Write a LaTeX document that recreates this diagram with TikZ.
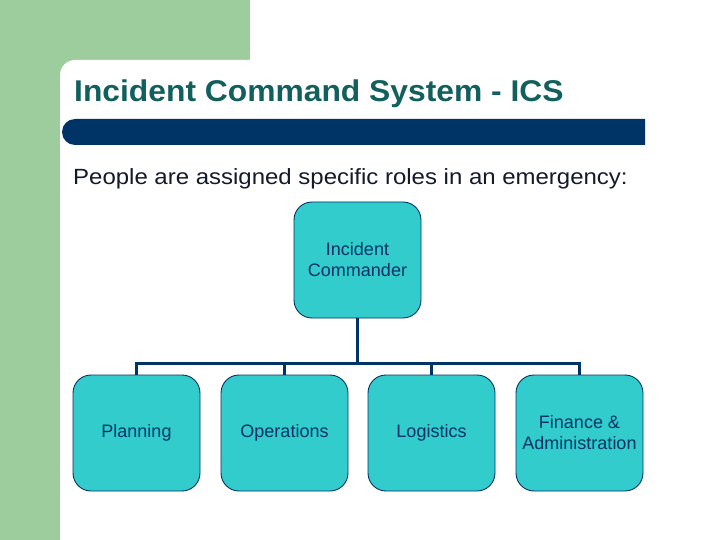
\documentclass[tikz,border=0pt]{standalone}
\usepackage{fontspec}
\setmainfont{Liberation Sans}
\usetikzlibrary{positioning}
\definecolor{leafgreen}{HTML}{9DCC9D}
\definecolor{navy}{HTML}{003366}
\definecolor{titleteal}{HTML}{11605E}
\definecolor{roleteal}{HTML}{33CCCC}
\definecolor{inkdark}{HTML}{151A2A}
\newfontfamily\titlefont[FakeStretch=1.06]{Liberation Sans}
\newfontfamily\introfont[FakeStretch=1.09]{Liberation Sans}
\tikzset{
  rolebox/.style = {rounded corners=18pt, draw=navy, line width=0.9pt, fill=roleteal,
                    text=navy, align=center, minimum width=127pt, minimum height=116pt,
                    inner sep=2pt, font=\fontsize{18}{21}\selectfont},
  tree/.style    = {draw=navy, line width=3pt},
}
\begin{document}
\begin{tikzpicture}[x=1pt,y=-1pt]
    \useasboundingbox (0,0) rectangle (720,540);
    % slide background
    \fill[leafgreen] (0,0) rectangle (720,540);
    \fill[white] (60,540) [rounded corners=15pt]-- (60,60) [sharp corners]-- (720,60) -- (720,540) -- cycle;
    \fill[white] (250,0) rectangle (720,60);
    % title and bar
    \node[anchor=base west,inner sep=0pt,text=titleteal,font=\titlefont\bfseries\fontsize{30}{34}\selectfont] (title) at (74,102) {Incident Command System - ICS};
    \fill[navy] (645,119) [rounded corners=13pt]-- (62,119) -- (62,145) [sharp corners]-- (645,145) -- cycle;
    \node[anchor=base west,inner sep=0pt,text=inkdark,font=\introfont\fontsize{22}{26}\selectfont] (intro) at (73,185) {People are assigned specific roles in an emergency:};
    % chart
    \node[rolebox] (cmd) at (357.5,260) {Incident\\Commander};
    \node[rolebox] (plan) at (136.5,433) {Planning};
    \node[rolebox] (ops) at (284.5,433) {Operations};
    \node[rolebox] (log) at (431.5,433) {Logistics};
    \node[rolebox] (fin) at (579.5,433) {Finance \&\\Administration};
    \coordinate (bus) at (357.5,363);
    \draw[tree] (cmd.south) -- (bus);
    \draw[tree] (plan.north) |- (bus) -| (fin.north);
    \draw[tree] (ops.north) -- (ops.north |- bus);
    \draw[tree] (log.north) -- (log.north |- bus);
\end{tikzpicture}
\end{document}
